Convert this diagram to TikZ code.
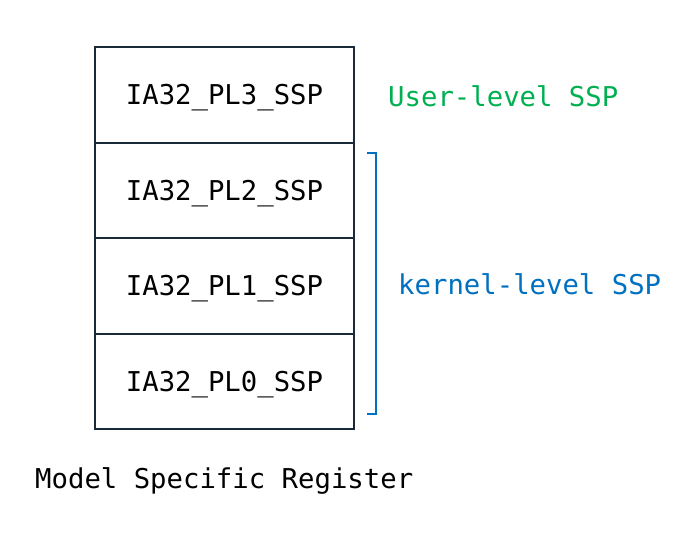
\documentclass[tikz,border=0pt]{standalone}
\usepackage{fontspec}
\setmonofont{DejaVu Sans Mono}
\begin{document}
\begin{tikzpicture}[x=1pt,y=-1pt,
  cell/.style={draw=cellline,line width=1.6pt,minimum width=259pt,minimum height=95.5pt,inner sep=0pt,
    text height=19.5pt,text depth=0pt,
    font=\ttfamily\fontsize{27.3}{32}\selectfont,text=black},
  lbl/.style={font=\ttfamily\fontsize{27.3}{32}\selectfont,inner sep=0pt,anchor=west}]
\definecolor{cellline}{HTML}{1B2A38}
\definecolor{ublue}{HTML}{0070C0}
\definecolor{ugreen}{HTML}{00B050}
\useasboundingbox (0,0) rectangle (700,541);
\node[cell] (pl3) at (224.5,95) {IA32\_PL3\_SSP};
\node[cell] (pl2) at (224.5,190.5) {IA32\_PL2\_SSP};
\node[cell] (pl1) at (224.5,286) {IA32\_PL1\_SSP};
\node[cell] (pl0) at (224.5,381.5) {IA32\_PL0\_SSP};
\node[lbl,text=ugreen] (user) at (388,96) {User-level SSP};
\node[lbl,text=ublue] (kern) at (398,284) {kernel-level SSP};
\node[lbl,text=black] (msr) at (35,481) {Model Specific Register};
\coordinate (bt) at (367,153);
\coordinate (bb) at (367,414);
\draw[ublue,line width=1.3pt] (bt) -- ++(9,0) |- (bb);
\end{tikzpicture}
\end{document}
